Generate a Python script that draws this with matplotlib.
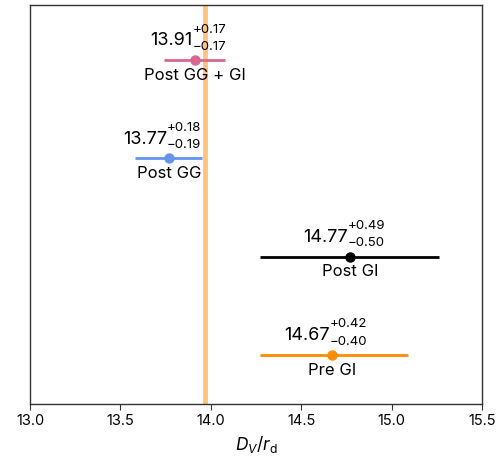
import matplotlib
matplotlib.use("Agg")
import matplotlib.pyplot as plt

plt.rcParams['font.family'] = ['Inter', 'DejaVu Sans']
plt.rcParams['mathtext.fontset'] = 'custom'
plt.rcParams['mathtext.rm'] = 'Inter'
plt.rcParams['mathtext.it'] = 'Inter:italic'
plt.rcParams['mathtext.bf'] = 'Inter:bold'

labels = ["Pre GI", "Post GI", "Post GG", "Post GG + GI"]
values = [14.67, 14.77, 13.77, 13.91]
err_plus = [0.42, 0.49, 0.18, 0.17]
err_minus = [0.40, 0.50, 0.19, 0.17]
colors = ["#FF8C00", "#000000", "#6495ED", "#D9668F"]
band_value = 13.97
xticks = [13.0, 13.5, 14.0, 14.5, 15.0, 15.5]

fig = plt.figure(figsize=(5.03, 4.65), dpi=100)
ax = fig.add_axes([30/503, 1-404/465, 452/503, 399/465])

ax.axvline(band_value, color="#FFBF70", lw=3.5, alpha=0.9, zorder=1)

for i, (lab, v, ep, em, c) in enumerate(zip(labels, values, err_plus, err_minus, colors)):
    ax.errorbar(v, i, xerr=[[em], [ep]], fmt='o', color=c, ms=6.5, lw=2, capsize=0, zorder=3)
    ax.annotate(f"{v:.2f}", (v, i), xytext=(-1.5, 10.5), textcoords='offset points',
                ha='right', va='baseline', fontsize=13)
    ax.annotate(f"+{ep:.2f}", (v, i), xytext=(-1.5, 19.8), textcoords='offset points',
                ha='left', va='baseline', fontsize=9.5)
    ax.annotate(f"\u2212{em:.2f}", (v, i), xytext=(-1.5, 7.4), textcoords='offset points',
                ha='left', va='baseline', fontsize=9.5)
    ax.annotate(lab, (v, i), xytext=(0, -5.5), textcoords='offset points',
                ha='center', va='top', fontsize=12)

ax.set_xlim(13.0, 15.5)
ax.set_ylim(-0.5, 3.56)
ax.set_xticks(xticks)
ax.set_xticklabels([f"{t:.1f}" for t in xticks])
ax.set_yticks([])
ax.tick_params(axis='x', labelsize=10.5, length=4, color="#333333")
for s in ax.spines.values():
    s.set_color("#333333")
    s.set_linewidth(1)
ax.set_xlabel(r"$D_V/r_\mathrm{d}$", fontsize=12.5)

fig.savefig("out.png", dpi=100)
